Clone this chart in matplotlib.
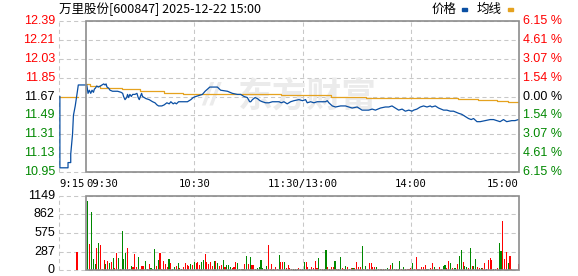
import matplotlib
matplotlib.use("Agg")
import matplotlib.pyplot as plt
from matplotlib.patches import Rectangle

# ---- data (minutes after 09:30; the 11:30-13:00 break is collapsed) ----
title = "万里股份[600847] 2025-12-22 15:00"
prev_close = 11.67
price_ticks = [12.39, 12.21, 12.03, 11.85, 11.67, 11.49, 11.31, 11.13, 10.95]
pct_labels = ["6.15", "4.61", "3.07", "1.54", "0.00", "1.54", "3.07", "4.61", "6.15"]
vol_ticks = [0, 287, 575, 862, 1149]
time_labels = ["9:15", "09:30", "10:30", "11:30/13:00", "14:00", "15:00"]
time_pos = [-15, 0, 60, 120, 180, 240]

# call auction 09:15-09:25
pre_t = [-14.5, -14.5, -10, -10, -8.5, -8.5, -7.5, -7, -6, -4.8, -4.3, 0]
pre_p = [11.67, 10.99, 10.99, 11.04, 11.04, 11.12, 11.31, 11.49, 11.58, 11.72, 11.78, 11.78]
pre_avg_t = [-15, -4.5]
pre_avg_p = [11.67, 11.67]
auction_t = -5
auction_vol = 282

price_t = [0.4, 1.1, 1.8, 2.6, 3.3, 4.1, 4.6, 5.2, 5.9, 6.8, 7.9, 8.8, 9.8, 10.5, 11.1,
           11.6, 12.5, 13.3, 14.7, 17.5, 19.4, 20.3, 20.8, 21.6, 22.5, 23.0, 23.6, 24.3,
           25.1, 25.8, 27.1, 28.2, 28.9, 29.5, 30.1, 30.8, 31.3, 32.3, 33.2, 35.0, 36.9,
           38.2, 39.3, 40.2, 42.0, 43.3, 44.8, 46.1, 47.0, 48.3, 49.2, 50.1, 51.3, 54.4,
           56.2, 58.1, 59.4, 60.8, 62.7, 64.5, 66.0, 67.3, 68.6, 71.0, 72.8, 74.6, 78.4,
           81.1, 83.9, 85.7, 87.6, 89.4, 90.7, 91.3, 92.2, 93.7, 95.0, 96.4, 97.7, 99.6,
           101.4, 103.3, 105.1, 107.0, 108.2, 109.7, 111.5, 113.4, 115.2, 118.0, 120.0,
           121.7, 122.6, 124.5, 126.3, 128.1, 130.9, 132.7, 133.7, 134.6, 136.5, 138.3,
           141.1, 143.8, 145.6, 147.5, 150.3, 153.0, 155.8, 156.7, 158.6, 160.4, 163.2,
           165.9, 167.8, 169.6, 171.5, 173.3, 175.2, 177.0, 178.9, 180.7, 181.6, 183.4,
           185.3, 187.1, 189.0, 190.8, 191.7, 193.6, 195.4, 198.2, 200.0, 201.9, 203.7,
           206.5, 208.3, 210.2, 212.0, 213.5, 214.8, 216.7, 218.5, 221.2, 224.0, 225.9,
           227.7, 229.5, 231.4, 233.2, 236.0, 237.8, 239.7]
price = [11.78, 11.70, 11.73, 11.70, 11.73, 11.71, 11.74, 11.75, 11.77, 11.76, 11.77, 11.78,
         11.79, 11.78, 11.79, 11.76, 11.75, 11.73, 11.72, 11.72, 11.71, 11.70, 11.67, 11.64,
         11.66, 11.69, 11.66, 11.69, 11.67, 11.69, 11.69, 11.70, 11.66, 11.64, 11.67, 11.70,
         11.67, 11.66, 11.65, 11.64, 11.62, 11.61, 11.59, 11.58, 11.58, 11.59, 11.61, 11.60,
         11.62, 11.60, 11.61, 11.60, 11.62, 11.62, 11.62, 11.64, 11.66, 11.67, 11.68, 11.69,
         11.72, 11.74, 11.76, 11.76, 11.76, 11.73, 11.72, 11.70, 11.69, 11.69, 11.67, 11.66,
         11.62, 11.62, 11.64, 11.66, 11.65, 11.63, 11.62, 11.61, 11.61, 11.62, 11.62, 11.62,
         11.61, 11.62, 11.60, 11.62, 11.63, 11.64, 11.63, 11.64, 11.61, 11.62, 11.61, 11.62,
         11.62, 11.62, 11.63, 11.61, 11.58, 11.57, 11.58, 11.58, 11.57, 11.56, 11.57, 11.54,
         11.54, 11.54, 11.55, 11.54, 11.56, 11.57, 11.57, 11.58, 11.56, 11.54, 11.55, 11.53,
         11.54, 11.53, 11.54, 11.55, 11.57, 11.58, 11.57, 11.58, 11.57, 11.58, 11.56, 11.54,
         11.54, 11.53, 11.53, 11.51, 11.50, 11.48, 11.46, 11.45, 11.46, 11.43, 11.43, 11.44,
         11.45, 11.45, 11.44, 11.43, 11.45, 11.43, 11.44, 11.44, 11.45]

avg_t = [0, 2, 8, 20, 30, 43, 54, 108, 136, 155, 182, 206, 217, 228, 234, 240]
avg_p = [11.79, 11.77, 11.75, 11.74, 11.72, 11.70, 11.69, 11.685, 11.67, 11.66, 11.655,
         11.645, 11.633, 11.623, 11.614, 11.614]

# volume per minute 0..240, and whether the minute closed up (1) or down (0)
volume = [0, 1065, 407, 893, 172, 94, 345, 423, 392, 16,
          157, 94, 136, 110, 130, 188, 31, 261, 188, 16,
          611, 172, 261, 345, 16, 57, 42, 251, 42, 198,
          16, 63, 63, 136, 21, 89, 31, 16, 324, 63,
          157, 261, 10, 136, 94, 42, 172, 104, 21, 42,
          63, 104, 31, 21, 42, 104, 78, 68, 94, 78,
          120, 104, 120, 84, 125, 157, 251, 125, 94, 125,
          68, 136, 136, 104, 63, 84, 157, 42, 73, 73,
          52, 31, 42, 120, 104, 21, 10, 16, 94, 219,
          94, 198, 73, 73, 21, 31, 42, 157, 31, 10,
          63, 392, 10, 94, 21, 52, 21, 235, 120, 120,
          120, 31, 78, 31, 21, 21, 21, 21, 31, 10,
          21, 125, 125, 42, 10, 52, 31, 141, 31, 188,
          21, 16, 16, 303, 47, 16, 47, 47, 141, 10,
          10, 204, 31, 10, 63, 47, 16, 31, 31, 31,
          125, 42, 52, 376, 16, 63, 16, 110, 110, 42,
          47, 47, 21, 16, 16, 16, 21, 31, 16, 78,
          110, 16, 16, 16, 141, 16, 47, 16, 16, 16,
          31, 110, 16, 204, 16, 21, 42, 47, 78, 16,
          21, 31, 110, 42, 21, 16, 47, 16, 63, 78,
          31, 141, 110, 31, 31, 31, 94, 219, 313, 125,
          63, 47, 31, 345, 63, 63, 172, 47, 31, 31,
          31, 110, 16, 157, 188, 157, 16, 16, 31, 423,
          298, 767, 172, 282, 110, 219, 16, 0, 0, 0,
          94]
vol_up = [1, 0, 1, 0, 0, 0, 1, 0, 1, 1,
          1, 0, 1, 0, 1, 0, 1, 1, 0, 1,
          0, 0, 0, 1, 1, 0, 1, 1, 1, 0,
          1, 1, 1, 0, 1, 1, 0, 0, 0, 1,
          0, 1, 1, 1, 1, 1, 0, 1, 0, 0,
          1, 0, 1, 0, 1, 1, 1, 1, 0, 1,
          0, 1, 1, 1, 0, 0, 1, 1, 1, 1,
          1, 0, 1, 0, 1, 1, 0, 1, 0, 0,
          0, 1, 1, 1, 0, 0, 1, 0, 1, 0,
          1, 0, 1, 1, 1, 0, 0, 0, 0, 1,
          0, 1, 1, 1, 1, 1, 1, 0, 1, 1,
          0, 1, 1, 1, 1, 0, 1, 0, 1, 1,
          0, 0, 1, 1, 0, 1, 1, 1, 1, 0,
          0, 1, 0, 0, 1, 0, 1, 1, 0, 1,
          1, 0, 1, 1, 0, 1, 0, 1, 0, 1,
          1, 1, 1, 0, 1, 0, 1, 1, 1, 1,
          1, 0, 1, 1, 0, 1, 0, 0, 1, 1,
          0, 1, 0, 1, 0, 1, 0, 1, 1, 1,
          1, 0, 1, 1, 1, 1, 1, 1, 1, 0,
          0, 1, 1, 0, 1, 1, 1, 1, 0, 0,
          1, 1, 0, 1, 0, 0, 1, 0, 0, 1,
          0, 0, 1, 0, 1, 0, 0, 1, 1, 0,
          1, 1, 0, 1, 1, 1, 0, 1, 1, 0,
          0, 1, 1, 1, 0, 1, 1, 1, 1, 1,
          1]

RED = "#ff0000"
GREEN = "#008800"
GRID = "#c8c8c8"
FRAME = "#8c8c8c"
NUM = ["Liberation Sans", "DejaVu Sans"]
CJK = ["Noto Sans CJK SC", "DejaVu Sans"]

fig = plt.figure(figsize=(5.78, 2.76), dpi=100)
W, H = 578, 276

def box(x0, y0, x1, y1):
    return [x0 / W, 1 - y1 / H, (x1 - x0) / W, (y1 - y0) / H]

ax = fig.add_axes(box(59, 21, 519, 172))
ax2 = fig.add_axes(box(59, 196, 519, 270))

for a, ticks, lo, hi in [(ax, price_ticks, 10.95, 12.39), (ax2, vol_ticks, 0, 1149)]:
    a.set_xlim(-15, 240)
    a.set_ylim(lo, hi)
    a.set_xticks([])
    a.set_yticks([])
    for s in a.spines.values():
        s.set_visible(False)
    for y in ticks:
        a.axhline(y, color=GRID, lw=0.75, ls=(0, (4, 3)), zorder=0, clip_on=False)
    for x in [-15, 60, 120, 180]:
        a.axvline(x, color=GRID, lw=0.75, ls=(0, (4, 3)), zorder=0, clip_on=False)
    a.add_patch(Rectangle((0, lo), 240, hi - lo, fill=False, edgecolor=FRAME,
                          lw=1.2, zorder=5, clip_on=False))

# watermark
ax.text(0.54, 0.5, "东方财富", transform=ax.transAxes, family=CJK, fontsize=25,
        fontweight="bold", color="#ebebeb", ha="center", va="center", zorder=0.5)
ax.text(0.33, 0.5, "//", transform=ax.transAxes, family=NUM, fontsize=22,
        fontweight="bold", fontstyle="italic", color="#ebebeb", ha="center",
        va="center", zorder=0.5)

# price and average
ax.plot(pre_avg_t, pre_avg_p, color="#e5a21f", lw=0.9, zorder=2)
ax.plot(pre_t, pre_p, color="#0a4fa3", lw=0.9, zorder=3)
ax.plot(avg_t, avg_p, color="#e5a21f", lw=0.9, drawstyle="steps-post", zorder=2)
ax.plot(price_t, price, color="#0a4fa3", lw=0.9, zorder=3)

# y labels
ytr = ax.get_yaxis_transform()
for y, pl in zip(price_ticks, pct_labels):
    c = "black" if abs(y - prev_close) < 1e-6 else (RED if y > prev_close else GREEN)
    ax.text(-0.009, y, f"{y:.2f}", transform=ytr, ha="right", va="center",
            color=c, family=NUM, fontsize=9)
    ax.text(1.009, y, pl + " %", transform=ytr, ha="left", va="center",
            color=c, family=NUM, fontsize=9)

# time labels
xtr = ax.get_xaxis_transform()
for t, lab in zip(time_pos, time_labels):
    ha = "left" if t <= 0 else ("right" if t == 240 else "center")
    ax.text(t, -0.08, lab, transform=xtr, ha=ha, va="center",
            family="DejaVu Sans Mono", fontsize=7.6)

# volume
minutes = list(range(len(volume)))
colors = [RED if u else GREEN for u in vol_up]
ax2.bar(minutes, volume, width=0.6, color=colors, lw=0, zorder=3)
ax2.bar([auction_t], [auction_vol], width=0.6, color=RED, lw=0, zorder=3)
ytr2 = ax2.get_yaxis_transform()
for v in vol_ticks:
    ax2.text(-0.009, v, str(v), transform=ytr2, ha="right", va="center",
             color="black", family=NUM, fontsize=9)

# title and legend
fig.text(59 / W, 1 - 9 / H, title, family=CJK, fontsize=9, ha="left", va="center")
fig.text(432 / W, 1 - 9 / H, "价格", family=CJK, fontsize=9, ha="left", va="center")
fig.text(477 / W, 1 - 9 / H, "均线", family=CJK, fontsize=9, ha="left", va="center")
fig.patches.append(Rectangle((462 / W, 1 - 11 / H), 5 / W, 3 / H,
                             transform=fig.transFigure, color="#0a4fa3"))
fig.patches.append(Rectangle((508 / W, 1 - 11 / H), 5 / W, 3 / H,
                             transform=fig.transFigure, color="#e5a21f"))

fig.savefig("out.png", dpi=100)
